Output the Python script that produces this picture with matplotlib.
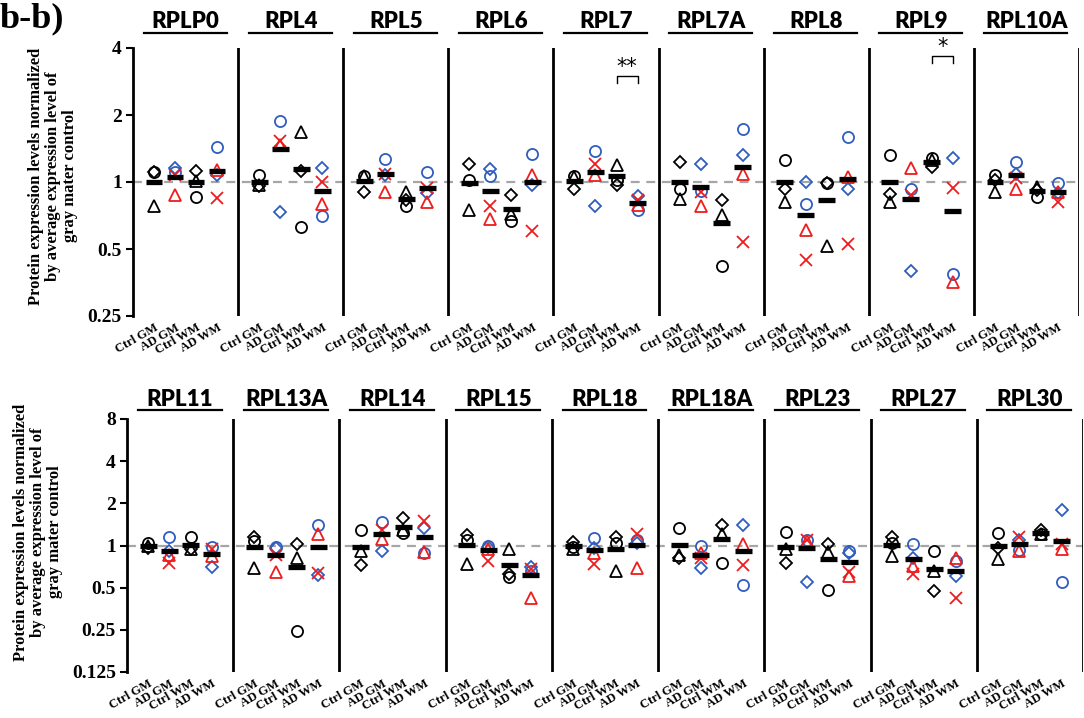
import matplotlib
matplotlib.use('Agg')
import matplotlib.pyplot as plt
import matplotlib.transforms as mtransforms
import numpy as np

groups = ['Ctrl GM', 'AD GM', 'Ctrl WM', 'AD WM']

# ---- top row: values as (GM, WM) per gene ----
top_genes = ['RPLP0', 'RPL4', 'RPL5', 'RPL6', 'RPL7', 'RPL7A', 'RPL8', 'RPL9', 'RPL10A']
top_ctrl_circle = [(1.11, 0.86), (1.075, 0.63), (1.06, 0.78), (1.02, 0.67), (1.06, 1.02),
                   (0.93, 0.42), (1.255, 0.99), (1.32, 1.28), (1.075, 0.86)]
top_ctrl_diamond = [(1.11, 1.12), (0.96, 1.12), (0.90, 0.83), (1.21, 0.874), (0.93, 0.97),
                    (1.23, 0.83), (0.93, 0.99), (0.88, 1.17), (1.02, 0.92)]
top_ctrl_triangle = [(0.78, 1.01), (0.97, 1.68), (1.06, 0.905), (0.75, 0.72), (1.05, 1.19),
                     (0.84, 0.71), (0.815, 0.518), (0.81, 1.25), (0.90, 0.95)]
top_ad_circle = [(1.11, 1.44), (1.87, 0.70), (1.27, 1.11), (1.06, 1.34), (1.38, 0.75),
                 (0.915, 1.73), (0.80, 1.60), (0.93, 0.386), (1.23, 0.985)]
top_ad_diamond = [(1.16, 1.075), (0.73, 1.16), (1.075, 0.89), (1.14, 0.97), (0.78, 0.865),
                  (1.20, 1.32), (1.0, 0.93), (0.40, 1.28), (1.09, 0.89)]
top_ad_triangle = [(0.87, 1.13), (1.47, 0.80), (0.905, 0.81), (0.68, 1.075), (1.075, 0.79),
                   (0.78, 1.09), (0.61, 1.05), (1.16, 0.357), (0.93, 0.905)]
top_ad_cross = [(1.07, 0.85), (1.53, 1.0), (1.09, 0.94), (0.78, 0.60), (1.20, 0.83),
                (0.905, 0.535), (0.446, 0.525), (0.87, 0.94), (1.04, 0.815)]

# significance (Ctrl WM vs AD WM)
sig_genes = ['RPL7', 'RPL9']
sig_labels = ['**', '*']
sig_heights = [3.0, 3.7]

# ---- bottom row ----
bot_genes = ['RPL11', 'RPL13A', 'RPL14', 'RPL15', 'RPL18', 'RPL18A', 'RPL23', 'RPL27', 'RPL30']
bot_ctrl_circle = [(1.04, 1.15), (1.085, 0.245), (1.30, 1.22), (1.10, 0.60), (0.97, 1.045),
                   (1.34, 0.75), (1.25, 0.48), (1.045, 0.91), (1.22, 1.20)]
bot_ctrl_diamond = [(0.96, 0.94), (1.15, 1.03), (0.73, 1.57), (1.18, 0.63), (1.06, 1.15),
                    (0.82, 1.41), (0.75, 1.03), (1.15, 0.47), (0.96, 1.30)]
bot_ctrl_triangle = [(1.0, 0.94), (0.686, 0.82), (0.92, 1.30), (0.74, 0.94), (0.94, 0.66),
                     (0.86, 1.20), (0.94, 0.90), (0.84, 0.66), (0.80, 1.21)]
bot_ad_circle = [(1.15, 0.98), (0.97, 1.41), (1.47, 0.89), (1.0, 0.66), (1.13, 1.09),
                 (1.0, 0.52), (1.10, 0.91), (1.02, 0.77), (0.93, 0.55)]
bot_ad_diamond = [(0.92, 0.70), (0.96, 0.62), (0.92, 1.34), (0.98, 0.705), (0.96, 1.045),
                  (0.686, 1.39), (0.55, 0.89), (0.82, 0.605), (1.10, 1.80)]
bot_ad_triangle = [(0.86, 0.84), (0.65, 1.21), (1.12, 0.90), (0.95, 0.42), (0.89, 0.686),
                   (0.89, 1.03), (1.07, 0.605), (0.71, 0.82), (0.92, 0.94)]
bot_ad_cross = [(0.75, 0.94), (0.86, 0.64), (1.30, 1.49), (0.77, 0.685), (0.74, 1.2),
                (0.82, 0.72), (1.09, 0.65), (0.63, 0.42), (1.15, 1.03)]

BLUE = '#2f5dbe'
RED = '#ee1c1c'
SERIF = 'Liberation Serif'

fig = plt.figure(figsize=(10.84, 7.18), dpi=100)


def draw_row(rect, genes, ctrl, ad, ylim, yticks, ytlabels, title_y, line_y,
             sig=None):
    ax = fig.add_axes(rect)
    ax.set_yscale('log', base=2)
    ax.set_ylim(*ylim)
    n = len(genes)
    ax.set_xlim(0, 5 * n)
    ax.axhline(1, color='#a6a6a6', ls=(0, (4, 3)), lw=1.6, zorder=1)

    ctrl_styles = [dict(marker='o', ms=8), dict(marker='D', ms=6), dict(marker='^', ms=8)]
    ad_styles = [dict(marker='o', ms=8, mec=BLUE), dict(marker='D', ms=6, mec=BLUE),
                 dict(marker='^', ms=8, mec=RED), dict(marker='x', ms=8, mec=RED)]

    trans = mtransforms.blended_transform_factory(ax.transData, fig.transFigure)
    xt, xl = [], []
    for i, g in enumerate(genes):
        x0 = 5 * i
        for k in range(2):  # GM, WM
            xc = x0 + 1 + 2 * k
            xa = x0 + 2 + 2 * k
            cvals = [s[i][k] for s in ctrl]
            avals = [s[i][k] for s in ad]
            for v, st in zip(cvals, ctrl_styles):
                ax.plot([xc], [v], ls='none', mfc='none', mec='black', mew=1.3,
                        zorder=3, **st)
            for v, st in zip(avals, ad_styles):
                ax.plot([xa], [v], ls='none', mfc='none', mew=1.3, zorder=3, **st)
            ax.hlines(np.mean(cvals), xc - 0.4, xc + 0.4, color='black', lw=3.8, zorder=5)
            ax.hlines(np.mean(avals), xa - 0.4, xa + 0.4, color='black', lw=3.8, zorder=5)
        xt += [x0 + 1, x0 + 2, x0 + 3, x0 + 4]
        xl += groups
        ax.axvline(x0 + 5, color='black', lw=2, zorder=2)
        ax.text(x0 + 2.5, title_y, g, transform=trans, ha='center', va='center',
                fontsize=16, fontweight='heavy', family='Lato')
        ax.plot([x0 + 0.5, x0 + 4.45], [line_y, line_y], transform=trans,
                color='black', lw=1.6, clip_on=False)

    if sig:
        for g, lab, h in zip(*sig):
            i = genes.index(g)
            xa, xb = 5 * i + 3, 5 * i + 4
            ax.plot([xa, xa, xb, xb], [h * 0.93, h, h, h * 0.93], color='black', lw=1)
            ax.text((xa + xb) / 2, h * 0.99, lab, ha='center', va='bottom',
                    fontsize=15, family='DejaVu Sans')

    ax.set_xticks(xt)
    ax.set_xticklabels(xl, rotation=30, ha='right', rotation_mode='anchor',
                       fontsize=9, fontweight='bold', family=SERIF)
    ax.tick_params(axis='x', length=0, pad=4)
    ax.set_yticks(yticks)
    ax.set_yticklabels(ytlabels, fontsize=14, fontweight='bold', family=SERIF)
    ax.yaxis.set_minor_locator(matplotlib.ticker.NullLocator())
    ax.tick_params(axis='y', direction='out', length=5, width=1.5, pad=3)
    for s in ['top', 'right', 'bottom']:
        ax.spines[s].set_visible(False)
    ax.spines['left'].set_linewidth(2)
    return ax


draw_row([133 / 1084, 1 - 316 / 718, 946 / 1084, 268 / 718], top_genes,
         [top_ctrl_circle, top_ctrl_diamond, top_ctrl_triangle],
         [top_ad_circle, top_ad_diamond, top_ad_triangle, top_ad_cross],
         (0.25, 4), [0.25, 0.5, 1, 2, 4], ['0.25', '0.5', '1', '2', '4'],
         1 - 22 / 718, 1 - 33 / 718, sig=(sig_genes, sig_labels, sig_heights))

draw_row([127 / 1084, 1 - 672 / 718, 956 / 1084, 253 / 718], bot_genes,
         [bot_ctrl_circle, bot_ctrl_diamond, bot_ctrl_triangle],
         [bot_ad_circle, bot_ad_diamond, bot_ad_triangle, bot_ad_cross],
         (0.125, 8), [0.125, 0.25, 0.5, 1, 2, 4, 8],
         ['0.125', '0.25', '0.5', '1', '2', '4', '8'],
         1 - 399 / 718, 1 - 410 / 718)

ylab = ('Protein expression levels normalized\nby average expression level of\n'
        'gray mater control')
fig.text(53 / 1084, 1 - 176 / 718, ylab, rotation=90, ha='center', va='center',
         multialignment='center', fontsize=12, fontweight='bold', family=SERIF,
         linespacing=1.1)
fig.text(38 / 1084, 1 - 532 / 718, ylab, rotation=90, ha='center', va='center',
         multialignment='center', fontsize=12, fontweight='bold', family=SERIF,
         linespacing=1.1)

fig.text(0.0, 0.997, 'b-b)', ha='left', va='top', fontsize=26, fontweight='bold',
         family=SERIF)

fig.savefig('out.png', dpi=100)
